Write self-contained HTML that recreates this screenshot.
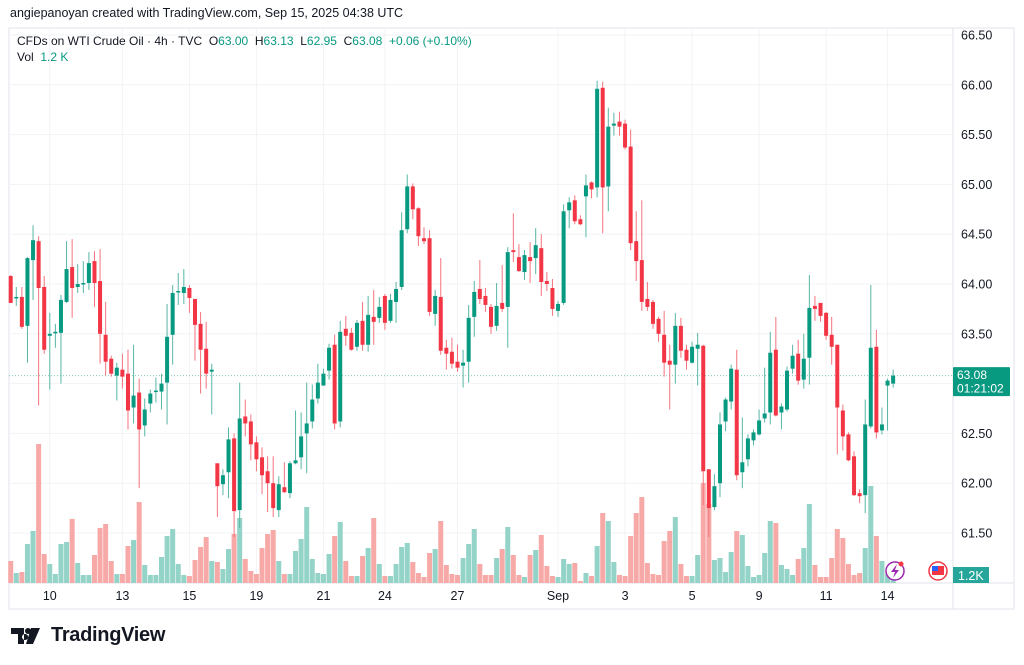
<!DOCTYPE html>
<html><head><meta charset="utf-8"><style>
html,body{margin:0;padding:0;background:#fff;width:1024px;height:665px;overflow:hidden;font-family:"Liberation Sans",sans-serif;color:#131722}
#hdr{position:absolute;left:10px;top:6px;font-size:12.5px}
#leg{position:absolute;left:17px;top:33px;font-size:12px;line-height:16px}
.g{color:#089981}
#logo{position:absolute;left:11px;top:624px;display:flex;align-items:center;font-size:20px;font-weight:bold;color:#131722;letter-spacing:-0.3px}
</style></head><body>
<div id="hdr">angiepanoyan created with TradingView.com, Sep 15, 2025 04:38 UTC</div>
<svg id="chart" width="1024" height="665" style="position:absolute;left:0;top:0"></svg>
<div id="leg">
<div>CFDs on WTI Crude Oil · 4h · TVC&nbsp;&nbsp;O<span class="g">63.00</span>&nbsp;&nbsp;H<span class="g">63.13</span>&nbsp;&nbsp;L<span class="g">62.95</span>&nbsp;&nbsp;C<span class="g">63.08</span>&nbsp;&nbsp;<span class="g">+0.06 (+0.10%)</span></div>
<div>Vol&nbsp;&nbsp;<span class="g">1.2 K</span></div>
</div>
<div id="logo"><svg width="36" height="18" viewBox="0 0 36 18"><path d="M0 1h13v16H7V7H0z M14 7a3 3 0 1 0 0.1 0z M20 1h9l-7 16h-7z" fill="#131722"/><circle cx="17" cy="4" r="3" fill="#131722"/></svg><span style="margin-left:4px">TradingView</span></div>
<script>
const opens=[64.08,63.86,63.87,63.58,64.24,64.43,63.97,63.48,63.51,63.51,63.82,64.17,63.97,64.00,64.01,64.23,64.03,63.49,63.25,63.08,63.14,63.10,62.76,62.91,62.58,62.80,62.92,62.92,63.01,63.49,63.92,63.91,63.96,63.85,63.60,63.35,63.12,62.20,61.99,62.11,62.45,61.73,62.67,62.62,62.41,62.26,62.12,62.00,61.73,61.96,61.90,62.20,62.26,62.50,62.62,62.85,62.98,63.13,63.39,62.62,63.55,63.51,63.37,63.63,63.39,63.67,63.66,63.88,63.63,63.82,63.97,64.55,64.98,64.76,64.46,64.46,63.70,63.87,63.36,63.32,63.22,63.18,63.22,63.67,63.95,63.88,63.77,63.58,63.81,63.77,64.34,64.27,64.12,64.27,64.26,64.36,64.03,63.96,63.73,63.81,64.74,64.84,64.65,64.88,65.02,64.97,65.97,64.98,65.59,65.63,65.61,65.38,64.43,64.24,63.85,63.82,63.65,63.49,63.23,63.19,63.58,63.34,63.21,63.35,63.38,62.14,61.76,62.00,62.62,62.82,63.14,62.11,62.24,62.43,62.49,62.65,62.71,63.34,62.71,62.74,63.15,63.30,63.04,63.26,63.78,63.81,63.71,63.49,63.39,62.73,62.49,62.27,61.90,61.88,62.57,63.37,62.53,62.98,63.00];
const highs=[64.09,63.97,63.97,64.27,64.59,64.48,64.08,63.71,63.60,63.89,64.43,64.45,64.20,64.23,64.32,64.33,64.35,63.82,63.28,63.21,63.30,63.34,63.39,63.05,62.85,62.94,63.06,63.10,63.80,63.99,64.11,64.15,63.99,63.85,63.72,63.62,63.20,62.20,62.14,62.56,62.50,63.01,62.84,62.69,62.47,62.36,62.27,62.27,62.07,62.21,62.22,62.73,62.71,63.01,62.99,63.20,63.15,63.40,63.49,63.63,63.68,63.56,63.64,63.82,63.88,63.94,63.87,63.90,63.90,64.02,64.72,65.10,65.01,64.77,64.57,64.54,63.94,64.26,63.44,63.46,63.39,63.34,63.79,64.03,64.24,63.96,63.80,64.01,64.19,64.37,64.71,64.40,64.34,64.42,64.56,64.50,64.12,64.05,63.83,64.80,64.87,64.89,64.69,65.10,65.03,66.04,66.03,65.77,65.72,65.73,65.65,65.55,64.73,64.84,64.02,63.84,63.67,63.73,63.39,63.71,63.66,63.39,63.42,63.51,63.39,62.14,62.09,62.71,62.86,63.19,63.34,62.66,62.49,62.54,62.74,63.16,63.52,63.67,62.80,63.17,63.39,63.44,63.50,64.09,63.88,63.81,63.72,63.67,63.39,62.79,62.51,62.32,61.94,62.84,63.99,63.54,62.76,63.05,63.14];
const lows=[63.81,63.78,63.55,63.21,63.84,62.78,63.30,62.94,63.36,63.00,63.81,63.66,63.91,63.91,63.94,63.77,63.20,63.08,63.07,62.83,62.95,62.54,62.60,61.95,62.47,62.71,62.81,62.74,62.59,63.19,63.79,63.80,63.71,63.23,62.90,62.95,62.69,61.66,61.88,61.85,61.46,61.55,62.47,62.23,62.12,61.89,61.71,61.66,61.66,61.90,61.85,62.19,62.14,62.10,62.55,62.80,62.98,63.04,62.54,62.56,63.38,63.33,63.33,63.33,63.32,63.39,63.61,63.54,63.61,63.61,63.94,64.51,64.65,64.38,64.40,63.68,63.58,63.29,63.14,63.15,63.12,62.96,63.01,63.47,63.80,63.72,63.50,63.53,63.72,63.36,64.22,64.12,64.04,64.01,64.10,63.88,63.93,63.68,63.67,63.79,64.56,64.60,64.59,64.47,64.86,64.87,64.51,64.73,65.49,65.49,65.35,64.34,64.03,63.73,63.73,63.55,63.42,63.07,62.74,63.00,63.26,63.14,63.20,62.98,61.78,61.46,61.73,61.86,62.52,62.74,62.03,61.95,62.17,62.38,62.48,62.61,62.59,62.67,62.54,62.72,63.10,62.99,62.95,62.99,63.63,63.62,63.44,63.19,62.29,62.33,62.22,61.87,61.80,61.70,62.55,62.45,62.49,62.53,62.96];
const closes=[63.81,63.87,63.57,64.26,64.44,63.96,63.34,63.50,63.52,63.84,64.15,63.96,64.00,64.01,64.21,64.01,63.50,63.22,63.10,63.16,63.07,62.73,62.88,62.54,62.74,62.90,62.93,63.00,63.47,63.91,63.93,63.97,63.86,63.59,63.34,63.10,63.14,61.97,62.08,62.44,61.72,62.65,62.60,62.39,62.24,62.08,62.00,61.75,61.99,61.91,62.20,62.23,62.47,62.60,62.84,63.01,63.10,63.36,62.60,63.52,63.48,63.34,63.61,63.39,63.69,63.62,63.77,63.61,63.84,63.95,64.54,64.98,64.75,64.48,64.43,63.72,63.88,63.33,63.30,63.20,63.16,63.21,63.66,63.92,63.85,63.79,63.57,63.78,63.75,64.32,64.32,64.13,64.29,64.23,64.39,64.02,64.00,63.75,63.80,64.73,64.82,64.63,64.60,64.99,64.95,65.96,64.97,65.58,65.61,65.58,65.37,64.41,64.23,63.82,63.77,63.60,63.50,63.21,63.19,63.58,63.33,63.23,63.37,63.39,62.12,61.75,61.97,62.59,62.84,63.15,62.08,62.21,62.45,62.51,62.63,62.70,63.31,62.68,62.77,63.13,63.28,63.03,63.25,63.76,63.75,63.68,63.48,63.37,62.76,62.47,62.23,61.88,61.87,62.59,63.36,62.51,62.59,63.03,63.08];
const volumes=[22,10,11,39,52,139,29,19,9,39,41,64,20,8,8,28,55,59,22,9,9,37,43,81,18,8,8,26,47,54,19,8,7,23,36,46,22,21,14,34,49,65,24,12,9,35,49,53,22,9,9,32,44,76,24,10,9,29,47,61,22,7,7,27,35,65,19,7,7,19,36,40,21,10,6,30,34,62,18,9,8,25,39,54,19,8,8,25,34,56,28,8,6,28,33,48,17,7,6,24,19,20,2,10,7,37,70,62,21,8,7,47,70,86,20,9,8,42,52,66,19,7,7,28,100,79,23,25,11,31,52,48,17,6,8,30,62,60,18,14,8,24,35,79,18,6,6,25,54,45,19,8,10,35,97,47,22,9,4];
const yTicks=[66.5,66.0,65.5,65.0,64.5,64.0,63.5,63.0,62.5,62.0,61.5];
const xLabels=["10","13","15","19","21","24","27","Sep","3","5","9","11","14"];
const xLabelIdx=[7,20,32,44,56,67,80,98,110,122,134,146,157];
const lastPrice=63.08;

const svg=document.getElementById('chart');
const NS='http://www.w3.org/2000/svg';
const L=9,R=953,T=28,B=583,W=1014,BOT=609;
const x0=10.7,step=5.585;
function xs(i){return x0+i*step;}
function ys(p){return 35+(66.5-p)*99.6;}
function vs(v){return B-v;}
function mk(tag,attrs,parent){const e=document.createElementNS(NS,tag);for(const k in attrs)e.setAttribute(k,attrs[k]);(parent||svg).appendChild(e);return e;}

let fr=mk('rect',{x:L,y:T,width:W-L,height:BOT-T,fill:'none',stroke:'#e0e3eb','stroke-width':1});


let sep=mk('line',{x1:R,y1:T,x2:R,y2:BOT,stroke:'#e0e3eb'});


let sep2=mk('line',{x1:L,y1:B,x2:W,y2:B,stroke:'#e0e3eb'});



yTicks.forEach(p=>{
  const y=ys(p);
  const g=mk('line',{x1:L,y1:y,x2:R,y2:y,stroke:'#f2f3f5'});
  
  
  const t=mk('text',{x:961,y:y+4.5,'font-size':12.5,fill:'#131722','font-family':'Liberation Sans, sans-serif'});
  t.textContent=p.toFixed(2);
  
  
});
xLabels.forEach((s,k)=>{
  const x=xs(xLabelIdx[k]);
  const g=mk('line',{x1:x,y1:T,x2:x,y2:B,stroke:'#f2f3f5'});
  
  
  const t=mk('text',{x:x,y:600,'font-size':12.5,fill:'#131722','text-anchor':'middle','font-family':'Liberation Sans, sans-serif'});
  t.textContent=s;
  
  
});

volumes.forEach((v,i)=>{
  const up=closes[i]>=opens[i];
  const r=mk('rect',{x:xs(i)-2.5,y:vs(v),width:5,height:v,fill:up?'#93d3c8':'#f7a9a7'});
  
  
});

const ly=ys(lastPrice);
let pl=mk('line',{x1:L,y1:ly,x2:R,y2:ly,stroke:'#7fc8bb','stroke-dasharray':'1 2'});



opens.forEach((o,i)=>{
  const c=closes[i],up=c>=o,col=up?'#089981':'#f23645';
  const x=xs(i);
  const w=mk('line',{x1:x,y1:ys(highs[i]),x2:x,y2:ys(lows[i]),stroke:up?'#57b6a5':'#f5737e','stroke-width':1});
  
  
  const top=ys(Math.max(o,c)),h=Math.max(1.5,Math.abs(ys(o)-ys(c)));
  const b=mk('rect',{x:x-2,y:top,width:4,height:h,fill:col});
  
  
});

let pb=mk('rect',{x:R,y:ly-8.5,width:57,height:29,fill:'#089981',rx:1});


let pt=mk('text',{x:R+4,y:ly+3.5,'font-size':12,fill:'#fff','font-family':'Liberation Sans, sans-serif'});
pt.textContent=lastPrice.toFixed(2);


let ct=mk('text',{x:R+4,y:ly+17,'font-size':12,fill:'#fff','font-family':'Liberation Sans, sans-serif'});
ct.textContent='01:21:02';


let vb=mk('rect',{x:R,y:567,width:36,height:16,fill:'#26a69a'});


let vt=mk('text',{x:R+5,y:580,'font-size':12.5,fill:'#fff','font-family':'Liberation Sans, sans-serif'});
vt.textContent='1.2K';



let ic=mk('circle',{cx:895,cy:571,r:9,fill:'#fff',stroke:'#9c27b0','stroke-width':1.5});


let bolt=mk('path',{d:'M897 564 L891 572 L895 572 L893 578 L899 570 L895 570 Z',fill:'#9c27b0'});


let dot=mk('circle',{cx:901,cy:564,r:2.5,fill:'#f23645'});


let fl=mk('circle',{cx:938,cy:571,r:9,fill:'#fff',stroke:'#f23645','stroke-width':1.5});


let fl2=mk('rect',{x:932,y:566,width:12,height:9,fill:'#f23645'});


let fl3=mk('rect',{x:932,y:566,width:6,height:5,fill:'#2962ff'});


</script>
</body></html>
